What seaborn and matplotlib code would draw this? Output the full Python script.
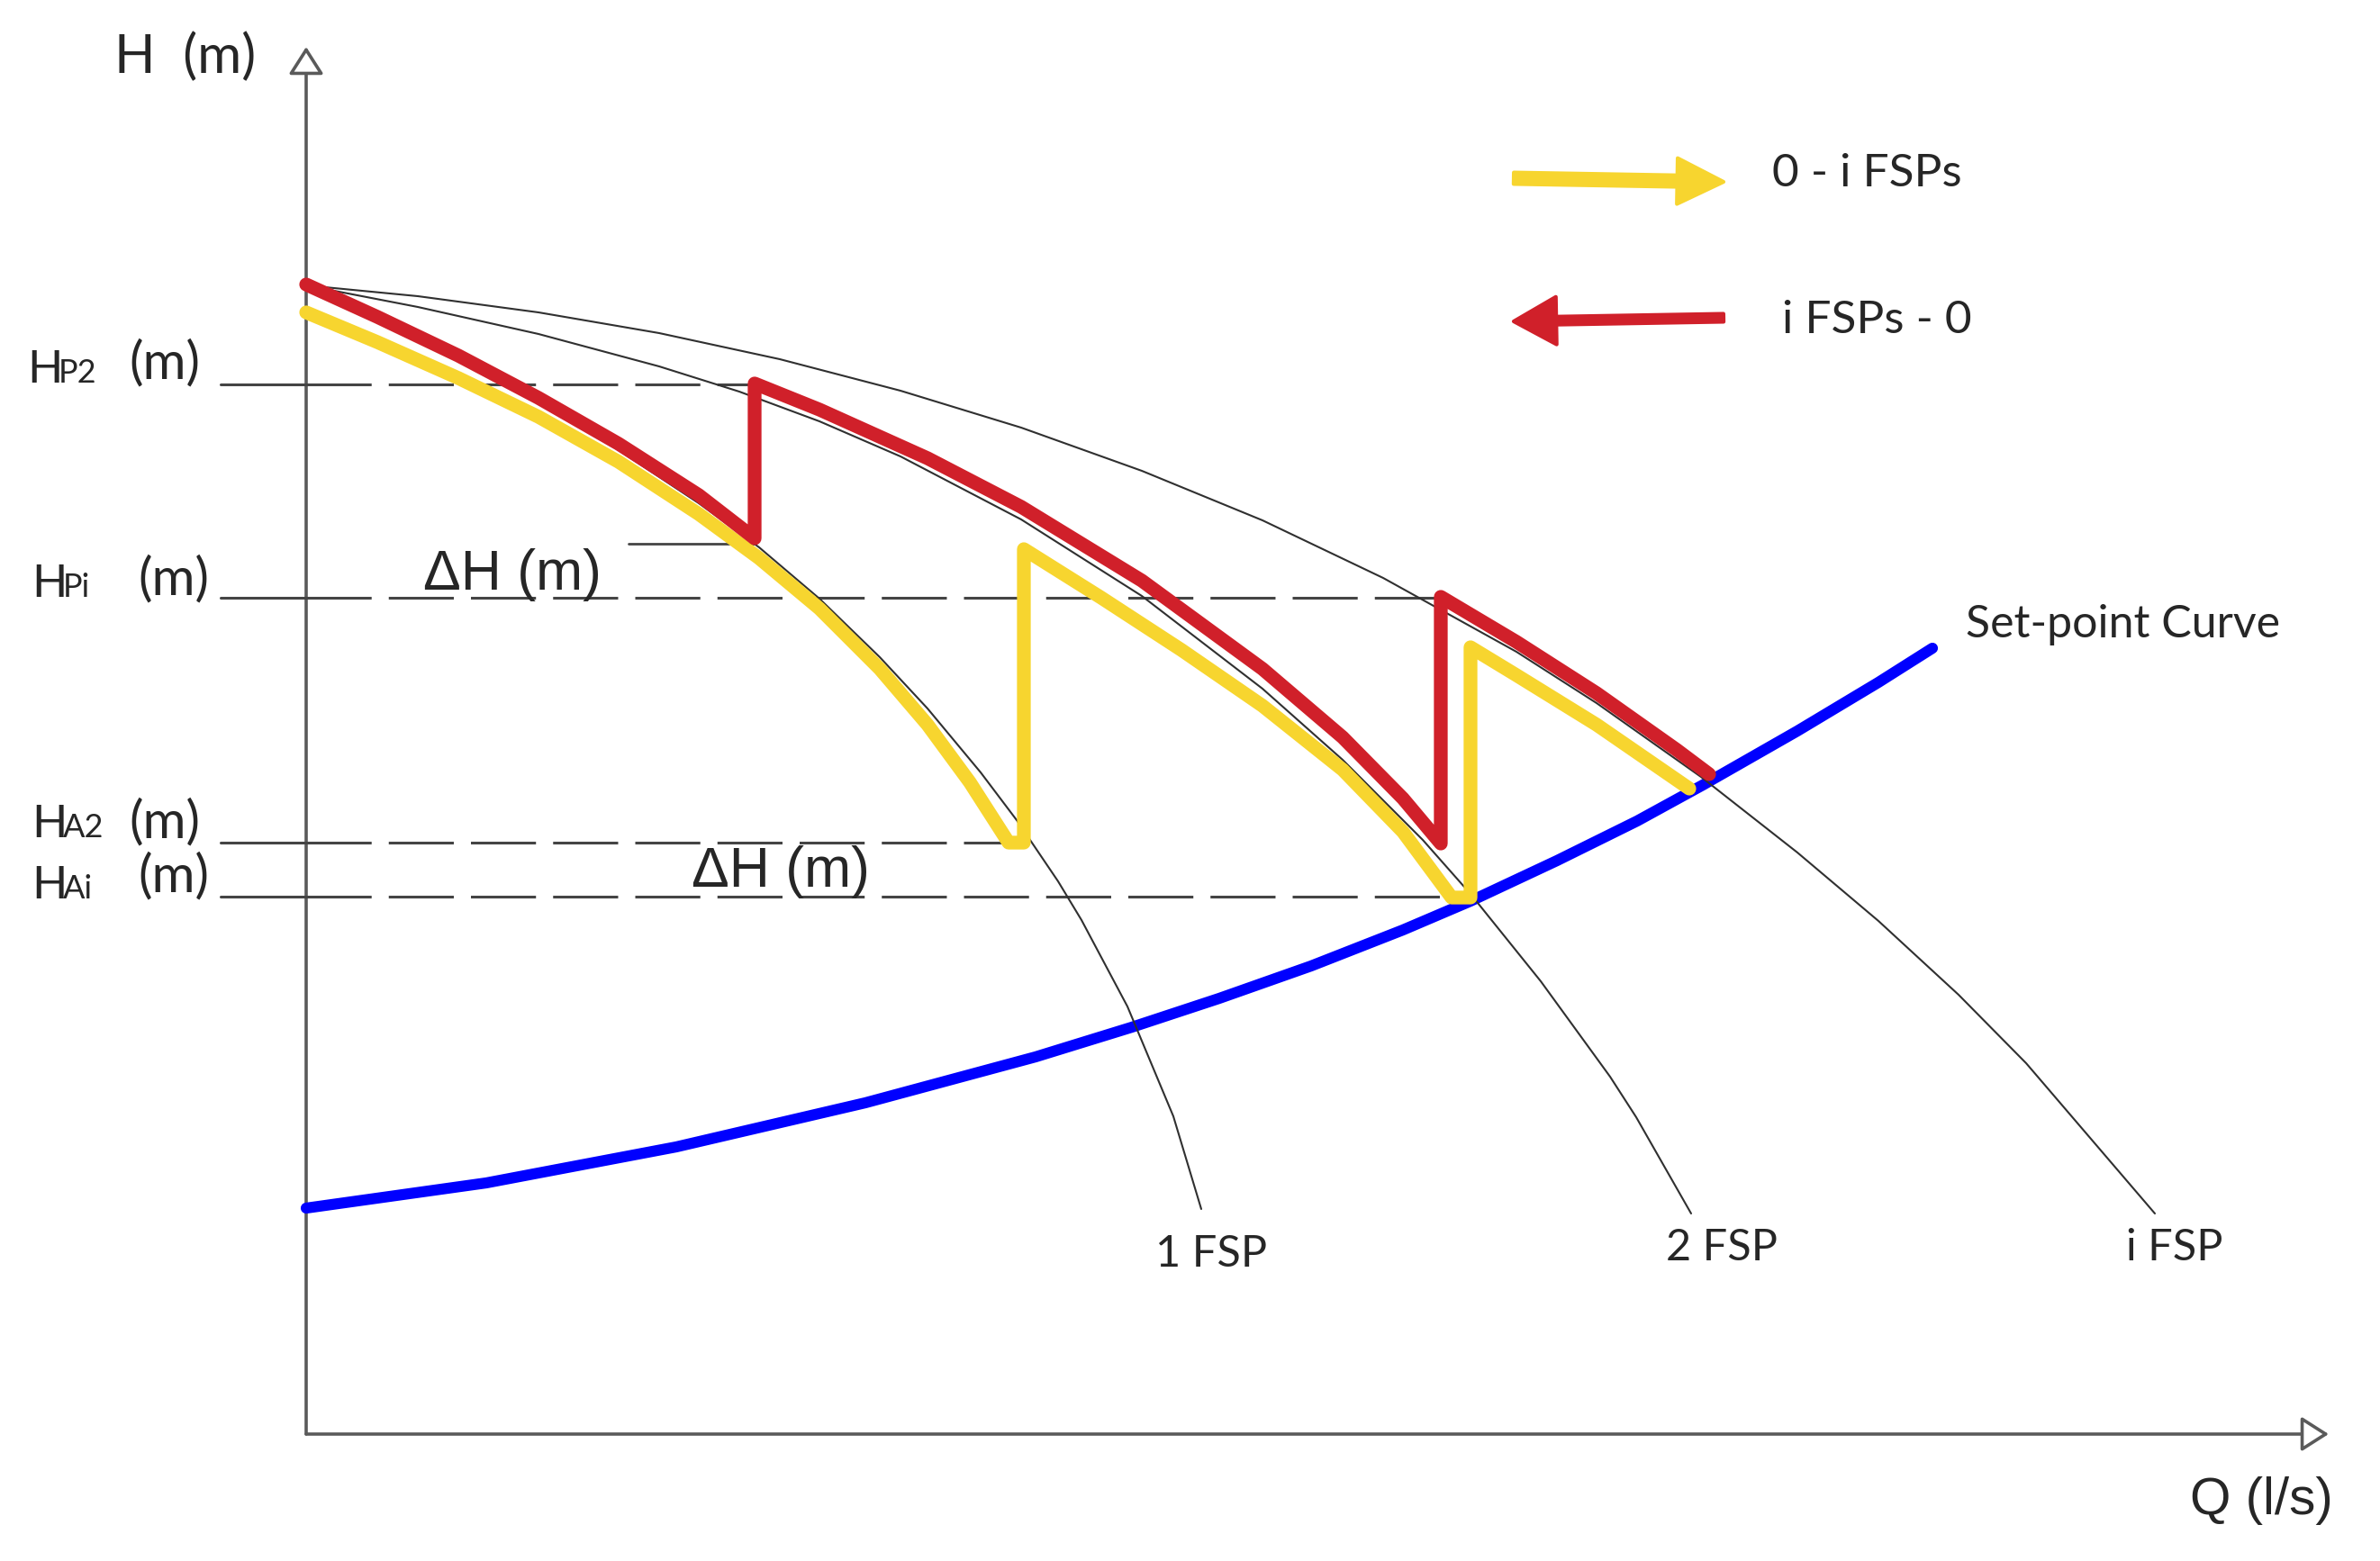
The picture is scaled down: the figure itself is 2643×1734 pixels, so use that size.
import matplotlib
matplotlib.use("Agg")
import matplotlib.pyplot as plt
import seaborn as sns
from matplotlib import font_manager
from matplotlib.patches import ArrowStyle

# drawing units: Q to the right of the H axis, H above the Q axis
# pump curves for 1, 2 and i fixed speed pumps
q_1fsp = [0, 79, 169, 258, 347, 436, 503, 570, 637, 690, 749, 789, 835, 861, 912, 963, 994]
h_1fsp = [1276, 1239, 1194, 1146, 1093, 1034, 985, 928, 863, 806, 735, 682, 614, 571, 475, 353, 250]

q_2fsp = [0, 124, 258, 392, 481, 570, 660, 794, 928, 1062, 1151, 1240, 1293, 1371, 1448, 1477, 1538]
h_2fsp = [1276, 1252, 1222, 1186, 1158, 1125, 1086, 1016, 931, 828, 749, 660, 600, 503, 397, 352, 245]

q_ifsp = [0, 124, 258, 392, 526, 660, 794, 928, 1062, 1196, 1344, 1433, 1549, 1656, 1746, 1835, 1910, 2053]
h_ifsp = [1276, 1264, 1246, 1223, 1194, 1159, 1118, 1070, 1015, 951, 869, 812, 730, 646, 570, 488, 412, 245]

# set-point curve
q_set = [0, 200, 411, 621, 810, 917, 1014, 1116, 1218, 1293, 1389, 1478, 1551, 1656, 1746, 1806]
h_set = [251, 279, 319, 368, 419, 452, 484, 520, 560, 592, 637, 681, 721, 781, 835, 873]

# i FSPs -> 0 path (red)
q_down = [1558, 1522, 1433, 1344, 1260, 1260, 1218, 1151, 1062, 928, 794, 690, 570, 498,
          498, 436, 347, 258, 169, 79, 0]
h_down = [733, 760, 823, 880, 930, 656, 706, 774, 850, 948, 1030, 1084, 1138, 1167,
          995, 1043, 1100, 1151, 1198, 1241, 1277]

# 0 -> i FSPs path (yellow)
q_up = [0, 79, 169, 258, 347, 436, 503, 570, 637, 690, 737, 780, 797,
        797, 883, 972, 1062, 1151, 1218, 1272, 1293,
        1293, 1344, 1433, 1536]
h_up = [1246, 1213, 1173, 1130, 1080, 1022, 973, 917, 850, 788, 724, 657, 657,
        983, 929, 871, 809, 738, 669, 596, 596,
        874, 843, 788, 717]

# head levels and where their guide lines stop
level_names = ["P2", "Pi", "A2", "Ai"]
level_h = [1166, 929, 657, 597]
level_q_end = [498, 1260, 797, 1293]
dh_line_h = 989
dh_line_q = [358, 498]

fsp_labels = ["1 FSP", "2 FSP", "i FSP"]

RED = "#d0202a"
YELLOW = "#f7d52f"
BLUE = "#0000ff"
THIN = "#303030"
DASH = "#444444"
AXIS = "#5a5a5a"

sns.set_theme(style="white")
plt.rcParams["lines.scale_dashes"] = False

installed = {f.name for f in font_manager.fontManager.ttflist}
ARIAL = "Liberation Sans"
CALIBRI = "Lato" if "Lato" in installed else "DejaVu Sans"

fig = plt.figure(figsize=(26.43, 17.34), dpi=100)
ax = fig.add_axes([0, 0, 1, 1])
ax.set_xlim(-340, 2303)
ax.set_ylim(-141, 1593)
ax.axis("off")

# axes with open arrow heads
head = ArrowStyle("-|>", head_length=0.47, head_width=0.3)
ax.annotate("", xy=(0, 1541), xytext=(0, 0),
            arrowprops=dict(arrowstyle=head, mutation_scale=40, fc="white", ec=AXIS,
                            lw=2.6, shrinkA=0, shrinkB=0), zorder=1)
ax.annotate("", xy=(2246, 0), xytext=(0, 0),
            arrowprops=dict(arrowstyle=head, mutation_scale=40, fc="white", ec=AXIS,
                            lw=2.6, shrinkA=0, shrinkB=0), zorder=1)

# guide lines for the head levels
for h, q_end in zip(level_h, level_q_end):
    ax.plot([-95, 0], [h, h], color=DASH, lw=2.2, zorder=1)
    ax.plot([0, q_end], [h, h], color=DASH, lw=2.2, ls=(0, (52, 13.7)), zorder=1)
ax.plot(dh_line_q, [dh_line_h, dh_line_h], color=DASH, lw=2.0, zorder=1)

# curves
sns.lineplot(x=q_set, y=h_set, sort=False, estimator=None, color=BLUE, linewidth=8.8,
             solid_capstyle="round", solid_joinstyle="round", zorder=2, ax=ax)
for q, h in [(q_1fsp, h_1fsp), (q_2fsp, h_2fsp), (q_ifsp, h_ifsp)]:
    sns.lineplot(x=q, y=h, sort=False, estimator=None, color=THIN, linewidth=1.5,
                 solid_joinstyle="round", zorder=3, ax=ax)
sns.lineplot(x=q_up, y=h_up, sort=False, estimator=None, color=YELLOW, linewidth=11,
             solid_capstyle="round", solid_joinstyle="round", zorder=4, ax=ax)
sns.lineplot(x=q_down, y=h_down, sort=False, estimator=None, color=RED, linewidth=11,
             solid_capstyle="round", solid_joinstyle="round", zorder=5, ax=ax)

# axis titles
ax.text(-213, 1512, "H  (m)", family=CALIBRI, fontsize=43, ha="left", va="baseline")
ax.text(2171, -89, "Q (l/s)", family=ARIAL, fontsize=42, ha="center", va="baseline")

# level labels on the left
label_pos = [(-310, 1168, -197, 1173), (-305, 930, -187, 933),
             (-305, 663, -197, 663), (-305, 595, -187, 603)]
for name, (qh, hh, qm, hm) in zip(level_names, label_pos):
    ax.text(qh, hh, "H", family=CALIBRI, fontsize=37, ha="left", va="baseline")
    ax.text(qh + 35, hh, name, family=CALIBRI, fontsize=26, ha="left", va="baseline")
    ax.text(qm, hm, "(m)", family=CALIBRI, fontsize=42, ha="left", va="baseline")

ax.text(130, 938, "ΔH (m)", family=ARIAL, fontsize=45, ha="left", va="baseline")
ax.text(428, 608, "ΔH (m)", family=ARIAL, fontsize=45, ha="left", va="baseline")

# curve names
for label, q, h in zip(fsp_labels, [1005, 1572, 2075], [186, 193, 193]):
    ax.text(q, h, label, family=CALIBRI, fontsize=35, ha="center", va="baseline")
ax.text(1843, 885, "Set-point Curve", family=CALIBRI, fontsize=36, ha="left", va="baseline")

# direction key
ax.annotate("", xy=(1574, 1391), xytext=(1341, 1395),
            arrowprops=dict(arrowstyle=ArrowStyle.Simple(head_length=1.85, head_width=1.83, tail_width=0.46),
                            mutation_scale=20, fc=YELLOW, ec=YELLOW, lw=3, joinstyle="round",
                            shrinkA=0, shrinkB=0))
ax.annotate("", xy=(1341, 1236), xytext=(1574, 1240),
            arrowprops=dict(arrowstyle=ArrowStyle.Simple(head_length=1.7, head_width=1.9, tail_width=0.32),
                            mutation_scale=20, fc=RED, ec=RED, lw=3, joinstyle="round",
                            shrinkA=0, shrinkB=0))
ax.text(1628, 1386, "0 - i FSPs", family=CALIBRI, fontsize=37, ha="left", va="baseline")
ax.text(1639, 1223, "i FSPs - 0", family=CALIBRI, fontsize=37, ha="left", va="baseline")

fig.savefig("out.png", dpi=100, facecolor="white")
